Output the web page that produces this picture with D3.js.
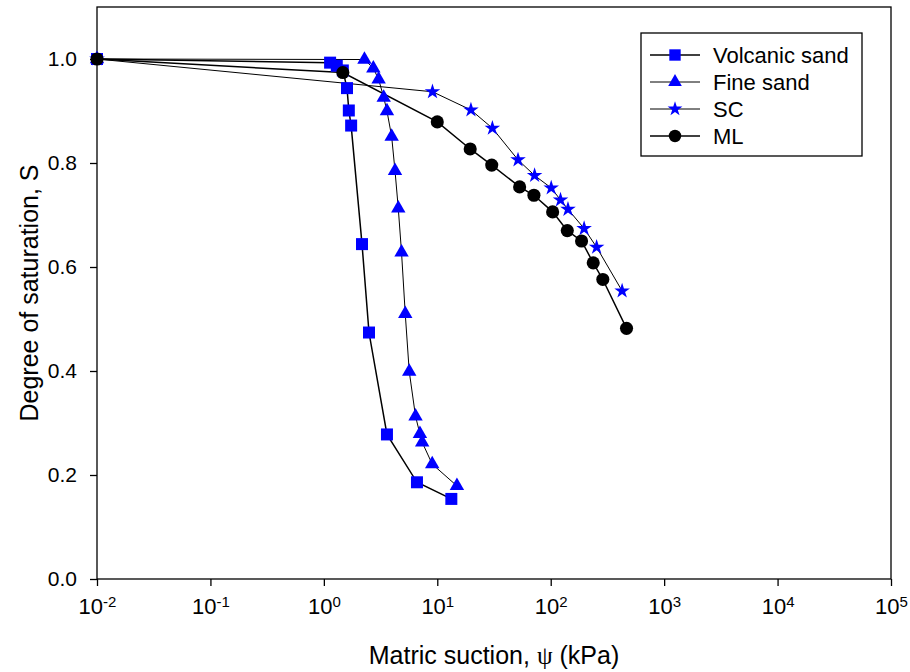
<!DOCTYPE html>
<meta charset="utf-8">
<script src="https://d3js.org/d3.v7.min.js"></script>
<style>
  body { margin: 0; background: #fff; }
  text { font-family: "Liberation Sans", Arial, sans-serif; }
</style>
<div id="my_dataviz"></div>
<script>

// data (suction in kPa, degree of saturation S)
var volcanicPsi = [0.01, 1.135, 1.30, 1.47, 1.60, 1.66, 1.74, 2.17, 2.50, 3.60, 6.62, 13.3];
var volcanicS   = [1.0, 0.993, 0.987, 0.978, 0.944, 0.901, 0.872, 0.644, 0.474, 0.278, 0.186, 0.154];

var finePsi = [0.01, 2.28, 2.73, 3.04, 3.37, 3.60, 3.96, 4.24, 4.53, 4.84, 5.22, 5.66, 6.43, 7.03, 7.36, 9.02, 14.9];
var fineS   = [1.0, 0.999, 0.982, 0.961, 0.926, 0.900, 0.851, 0.785, 0.713, 0.628, 0.510, 0.399, 0.313, 0.279, 0.263, 0.221, 0.179];

var scPsi = [0.01, 9.07, 19.8, 30.6, 51.5, 72.1, 101, 122, 142, 197, 254, 426];
var scS   = [1.0, 0.937, 0.902, 0.867, 0.806, 0.776, 0.752, 0.729, 0.711, 0.674, 0.638, 0.554];

var mlPsi = [0.01, 1.47, 10.0, 19.5, 30.2, 53.2, 71.1, 104, 140, 187, 237, 288, 466];
var mlS   = [1.0, 0.974, 0.879, 0.827, 0.796, 0.754, 0.738, 0.706, 0.670, 0.650, 0.608, 0.576, 0.482];

var seriesNames = ["Volcanic sand", "Fine sand", "SC", "ML"];
var xTicks = [1e-2, 1e-1, 1e0, 1e1, 1e2, 1e3, 1e4, 1e5];
var yTicks = [0, 0.2, 0.4, 0.6, 0.8, 1.0];

var series = [
  {name: seriesNames[0], psi: volcanicPsi, s: volcanicS, symbol: d3.symbolSquare,   size: 144, color: "#0000ff", lw: 1.5},
  {name: seriesNames[1], psi: finePsi,     s: fineS,     symbol: d3.symbolTriangle, size: 90,  color: "#0000ff", lw: 1},
  {name: seriesNames[2], psi: scPsi,       s: scS,       symbol: d3.symbolStar,     size: 75,  color: "#0000ff", lw: 1},
  {name: seriesNames[3], psi: mlPsi,       s: mlS,       symbol: d3.symbolCircle,   size: 135, color: "#000000", lw: 1.5}
];

var margin = {top: 7, right: 19, bottom: 93, left: 97},
    width = 910 - margin.left - margin.right,
    height = 672 - margin.top - margin.bottom;

var svg = d3.select("#my_dataviz")
  .append("svg")
    .attr("width", 910)
    .attr("height", 672)
  .append("g")
    .attr("transform", "translate(" + margin.left + "," + margin.top + ")");

var x = d3.scaleLog().domain([1e-2, 1e5]).range([0, width]);
var y = d3.scaleLinear().domain([0, 1.1]).range([height, 0]);

// frame
svg.append("rect")
  .attr("width", width).attr("height", height)
  .attr("fill", "none").attr("stroke", "#000").attr("stroke-width", 1.3);

// X axis with 10^n labels
var xAxis = svg.append("g")
  .attr("transform", "translate(0," + height + ")")
  .call(d3.axisBottom(x).tickValues(xTicks).tickSize(7).tickPadding(12).tickFormat(""));
xAxis.select(".domain").remove();
xAxis.selectAll(".tick line").attr("stroke-width", 1.3);
xAxis.selectAll(".tick text")
  .attr("fill", "#000")
  .style("font-size", "22px")
  .each(function(d) {
    var t = d3.select(this);
    t.append("tspan").text("10");
    t.append("tspan").text(Math.round(Math.log10(d)))
      .attr("dy", "-0.45em").style("font-size", "15px");
  });

// Y axis
var yAxis = svg.append("g")
  .call(d3.axisLeft(y).tickValues(yTicks).tickSize(7).tickPadding(13).tickFormat(d3.format(".1f")));
yAxis.select(".domain").remove();
yAxis.selectAll(".tick line").attr("stroke-width", 1.3);
yAxis.selectAll(".tick text").attr("fill", "#000").style("font-size", "21px");

// axis titles
svg.append("text")
  .attr("x", width / 2).attr("y", 657)
  .attr("text-anchor", "middle")
  .style("font-size", "25px")
  .html('Matric suction, <tspan style="font-family: \'Liberation Serif\', serif">ψ</tspan> (kPa)');

svg.append("text")
  .attr("transform", "translate(" + (38 - margin.left) + "," + (height / 2) + ") rotate(-90)")
  .attr("text-anchor", "middle")
  .style("font-size", "25px")
  .text("Degree of saturation, S");

// lines and markers
series.forEach(function(sr) {
  var pts = sr.psi.map(function(p, i) { return [p, sr.s[i]]; });
  svg.append("path")
    .datum(pts)
    .attr("fill", "none")
    .attr("stroke", "#000")
    .attr("stroke-width", sr.lw)
    .attr("d", d3.line()
      .x(function(d) { return x(d[0]); })
      .y(function(d) { return y(d[1]); }));
});
series.forEach(function(sr) {
  var pts = sr.psi.map(function(p, i) { return [p, sr.s[i]]; });
  svg.append("g").selectAll("path")
    .data(pts)
    .enter().append("path")
      .attr("transform", function(d) { return "translate(" + x(d[0]) + "," + y(d[1]) + ")"; })
      .attr("d", d3.symbol().type(sr.symbol).size(sr.size))
      .attr("fill", sr.color);
});

// legend
var legend = svg.append("g").attr("transform", "translate(" + (641 - margin.left) + "," + (33 - margin.top) + ")");
legend.append("rect")
  .attr("width", 221).attr("height", 123)
  .attr("fill", "#fff").attr("stroke", "#000").attr("stroke-width", 1.3);
series.forEach(function(sr, i) {
  var row = legend.append("g").attr("transform", "translate(0," + (22 + i * 27) + ")");
  row.append("line").attr("x1", 9).attr("x2", 59)
    .attr("stroke", "#000").attr("stroke-width", sr.lw);
  row.append("path")
    .attr("transform", "translate(34,0)")
    .attr("d", d3.symbol().type(sr.symbol).size(sr.size * 0.9))
    .attr("fill", sr.color);
  row.append("text")
    .attr("x", 72).attr("y", 8)
    .style("font-size", "22px")
    .text(sr.name);
});

</script>
